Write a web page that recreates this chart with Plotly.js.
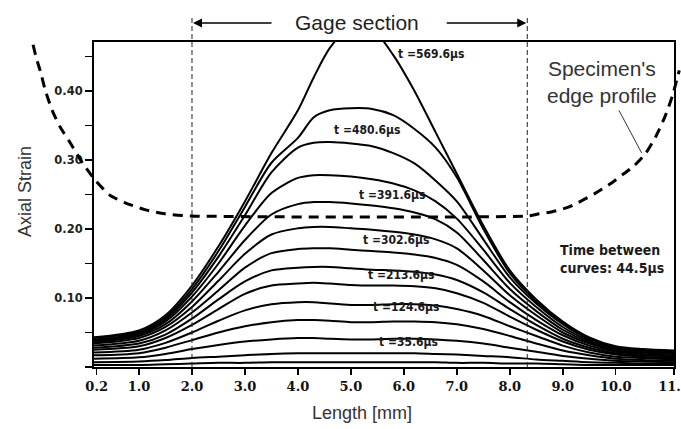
<!DOCTYPE html>
<html>
<head>
<meta charset="utf-8">
<script src="https://cdn.plot.ly/plotly-3.0.1.min.js"></script>
<style>html,body{margin:0;padding:0;background:#fff;}#plot{width:681px;height:429px;}</style>
</head>
<body>
<div id="plot"></div>
<script>
// ---- data (length in mm, axial strain) ----
var lengthMM = [0.15, 1.0, 1.5, 2.0, 2.5, 3.0, 3.5, 4.0, 4.3, 4.6, 5.0, 5.4, 5.8, 6.2, 6.6, 7.0, 7.5, 8.0, 8.5, 9.0, 9.5, 10.0, 10.5, 11.1];

var times = ["569.6", "525.1", "480.6", "436.1", "391.6", "347.1", "302.6", "258.1", "213.6", "169.1", "124.6", "80.1", "35.6", "0"];

var s569_6 = [.043,.053,.075,.118,.175,.240,.310,.372,.420,.462,.495,.490,.452,.400,.340,.280,.205,.140,.098,.066,.043,.030,.026,.024];
var s525_1 = [.042,.051,.072,.113,.168,.232,.296,.332,.362,.372,.375,.374,.365,.345,.318,.275,.200,.136,.095,.064,.042,.029,.025,.023];
var s480_6 = [.040,.049,.069,.108,.160,.220,.282,.318,.325,.326,.324,.320,.310,.295,.270,.240,.185,.130,.092,.062,.040,.028,.024,.022];
var s436_1 = [.038,.047,.066,.102,.150,.205,.252,.274,.278,.278,.276,.272,.266,.256,.240,.215,.170,.122,.087,.058,.038,.027,.023,.021];
var s391_6 = [.036,.045,.062,.095,.138,.184,.221,.236,.239,.239,.237,.234,.230,.224,.214,.195,.155,.113,.081,.054,.036,.026,.022,.020];
var s347_1 = [.034,.042,.058,.087,.125,.164,.192,.201,.203,.203,.201,.199,.196,.192,.185,.172,.140,.104,.075,.050,.034,.024,.021,.019];
var s302_6 = [.031,.038,.053,.079,.111,.144,.165,.171,.172,.172,.170,.168,.166,.163,.158,.148,.124,.094,.068,.046,.031,.022,.019,.017];
var s258_1 = [.028,.034,.047,.070,.098,.124,.140,.144,.145,.145,.143,.141,.140,.138,.134,.126,.108,.084,.061,.041,.028,.020,.017,.015];
var s213_6 = [.025,.030,.042,.061,.084,.106,.118,.121,.122,.121,.119,.118,.118,.117,.114,.107,.093,.073,.054,.037,.025,.018,.015,.013];
var s169_1 = [.021,.025,.035,.050,.067,.082,.091,.094,.094,.092,.090,.090,.091,.091,.089,.084,.074,.059,.045,.031,.021,.015,.013,.011];
var s124_6 = [.017,.020,.028,.039,.050,.059,.065,.068,.068,.067,.065,.065,.066,.066,.065,.062,.055,.045,.034,.024,.017,.012,.010,.009];
var s80_1  = [.012,.014,.019,.026,.032,.037,.040,.042,.042,.041,.040,.040,.041,.041,.040,.038,.034,.028,.022,.016,.012,.009,.008,.007];
var s35_6  = [.007,.008,.010,.013,.015,.017,.019,.020,.020,.020,.020,.020,.020,.020,.019,.018,.016,.014,.011,.009,.007,.006,.005,.005];
var s0     = [.003,.003,.004,.005,.006,.006,.007,.007,.007,.007,.007,.007,.007,.007,.007,.006,.006,.005,.005,.004,.003,.003,.003,.003];
var strainSeries = [s569_6, s525_1, s480_6, s436_1, s391_6, s347_1, s302_6, s258_1, s213_6, s169_1, s124_6, s80_1, s35_6, s0];

// curve labels (every other curve)
var labelText = ["t =569.6\u00b5s", "t =480.6\u00b5s", "t =391.6\u00b5s", "t =302.6\u00b5s", "t =213.6\u00b5s", "t =124.6\u00b5s", "t =35.6\u00b5s"];
var labelX = [6.52, 5.31, 5.78, 5.87, 5.95, 6.05, 6.08];
var labelY = [0.454, 0.343, 0.249, 0.184, 0.133, 0.087, 0.036];

// gage section boundaries (mm)
var gageBounds = [2.0, 8.33];

// specimen's edge profile (mm, strain-axis units)
var profileX = [-1.0,-0.94,-0.86,-0.77,-0.64,-0.49,-0.30,-0.07,0.17,0.45,0.74,1.11,1.49,1.96,8.36,8.55,8.80,9.12,9.36,9.62,9.87,10.15,10.34,10.56,10.75,10.92,11.07,11.2];
var profileY = [0.467,0.448,0.428,0.401,0.372,0.348,0.325,0.296,0.271,0.249,0.238,0.228,0.222,0.219,0.219,0.222,0.225,0.232,0.241,0.252,0.264,0.280,0.291,0.309,0.333,0.361,0.393,0.430];
var leaderX = [10.06, 10.49];
var leaderY = [0.372, 0.310];

// tick labels
var xTickVals = [0.2, 1, 2, 3, 4, 5, 6, 7, 8, 9, 10, 11.1];
var xTickText = ["0.2", "1.0", "2.0", "3.0", "4.0", "5.0", "6.0", "7.0", "8.0", "9.0", "10.0", "11.1"];
var yTickVals = [0, 0.05, 0.10, 0.15, 0.20, 0.25, 0.30, 0.35, 0.40, 0.45];
var yTickText = ["", "", "0.10", "", "0.20", "", "0.30", "", "0.40", ""];

// ---- layout geometry ----
var W = 681, H = 429;
var L = 94, R = 674, T = 42, B = 367;
var xRange = [0.15, 11.1];
var yRange = [0, 0.471];
var pxX = (R - L) / (xRange[1] - xRange[0]);
var pxY = (B - T) / (yRange[1] - yRange[0]);
var x2Range = [xRange[0] - L / pxX, xRange[1] + (W - R) / pxX];
var y2Range = [yRange[0] - (H - B) / pxY, yRange[1] + T / pxY];

var SANS = 'Liberation Sans, Arial, sans-serif';
var BOLD = 'DejaVu Sans Condensed, DejaVu Sans, sans-serif';

var traces = [];
strainSeries.forEach(function (s, i) {
  traces.push({
    x: lengthMM, y: s, type: 'scatter', mode: 'lines',
    line: {color: '#000', width: 2, shape: 'spline', smoothing: 0.8},
    name: 't=' + times[i], hoverinfo: 'skip', showlegend: false
  });
});
traces.push({
  x: profileX, y: profileY, xaxis: 'x2', yaxis: 'y2', type: 'scatter', mode: 'lines',
  line: {color: '#000', width: 3, dash: '10px,7px', shape: 'spline', smoothing: 0.6},
  hoverinfo: 'skip', showlegend: false
});
traces.push({
  x: leaderX, y: leaderY, type: 'scatter', mode: 'lines',
  line: {color: '#333', width: 1}, hoverinfo: 'skip', showlegend: false
});

var annotations = [];
labelText.forEach(function (t, i) {
  annotations.push({
    x: labelX[i], y: labelY[i], xref: 'x', yref: 'y', text: t, showarrow: false,
    xanchor: 'center', yanchor: 'middle',
    font: {family: BOLD, size: 12, color: '#1a1a1a', weight: 'bold'}
  });
});
annotations.push({
  x: 602 / W, y: (H - 82) / H, xref: 'paper', yref: 'paper', text: "Specimen's<br>edge profile",
  showarrow: false, align: 'center', xanchor: 'center', yanchor: 'middle',
  font: {family: SANS, size: 21, color: '#333'}
});
annotations.push({
  x: 558 / W, y: (H - 259) / H, xref: 'paper', yref: 'paper', xanchor: 'left', yanchor: 'middle',
  text: "Time between<br>curves: 44.5\u00b5s", showarrow: false, align: 'left',
  font: {family: BOLD, size: 14, color: '#1a1a1a', weight: 'bold'}
});
annotations.push({
  x: 357 / W, y: (H - 22) / H, xref: 'paper', yref: 'paper', text: "Gage section", showarrow: false,
  xanchor: 'center', yanchor: 'middle',
  font: {family: SANS, size: 21, color: '#222'}
});
annotations.push({
  x: gageBounds[0], y: (H - 23) / H, xref: 'x', yref: 'paper', text: '', showarrow: true,
  ax: 81, ay: 0, arrowhead: 2, arrowsize: 1.2, arrowwidth: 1.5, arrowcolor: '#000', standoff: 1
});
annotations.push({
  x: gageBounds[1], y: (H - 23) / H, xref: 'x', yref: 'paper', text: '', showarrow: true,
  ax: -82, ay: 0, arrowhead: 2, arrowsize: 1.2, arrowwidth: 1.5, arrowcolor: '#000', standoff: 1
});
annotations.push({
  x: 25 / W, y: (H - 192) / H, xref: 'paper', yref: 'paper', text: 'Axial Strain', textangle: -90,
  xanchor: 'center', yanchor: 'middle',
  showarrow: false, font: {family: SANS, size: 18, color: '#333'}
});
annotations.push({
  x: 362 / W, y: (H - 413) / H, xref: 'paper', yref: 'paper', text: 'Length [mm]',
  xanchor: 'center', yanchor: 'middle',
  showarrow: false, font: {family: SANS, size: 18, color: '#333'}
});

var shapes = gageBounds.map(function (g) {
  return {type: 'line', xref: 'x', yref: 'paper', x0: g, x1: g, y0: (H - B) / H, y1: (H - 16) / H,
          line: {color: '#222', width: 1, dash: '5px,3px'}};
});

var layout = {
  width: W, height: H,
  margin: {l: 0, r: 0, t: 0, b: 0},
  paper_bgcolor: '#fff', plot_bgcolor: 'rgba(0,0,0,0)',
  showlegend: false,
  xaxis: {
    domain: [L / W, R / W], range: xRange, anchor: 'y',
    tickmode: 'array', tickvals: xTickVals, ticktext: xTickText,
    ticks: 'outside', ticklen: 6, tickwidth: 1.5, tickcolor: '#000',
    ticklabeloverflow: 'allow',
    showline: true, linecolor: '#000', linewidth: 2, mirror: true,
    showgrid: false, zeroline: false,
    tickfont: {family: 'DejaVu Serif, serif', size: 13, color: '#111', weight: 'bold'}
  },
  yaxis: {
    domain: [(H - B) / H, (H - T) / H], range: yRange, anchor: 'x',
    tickmode: 'array', tickvals: yTickVals, ticktext: yTickText,
    ticks: 'outside', ticklen: 7, tickwidth: 1.5, tickcolor: '#000',
    showline: true, linecolor: '#000', linewidth: 2, mirror: true,
    showgrid: false, zeroline: false,
    tickfont: {family: 'DejaVu Sans, sans-serif', size: 11.5, color: '#222', weight: 'bold'}
  },
  xaxis2: {domain: [0, 1], range: x2Range, anchor: 'y2', visible: false, fixedrange: true},
  yaxis2: {domain: [0, 1], range: y2Range, anchor: 'x2', visible: false, fixedrange: true},
  annotations: annotations,
  shapes: shapes
};

Plotly.newPlot('plot', traces, layout, {staticPlot: true, displayModeBar: false});
</script>
</body>
</html>
